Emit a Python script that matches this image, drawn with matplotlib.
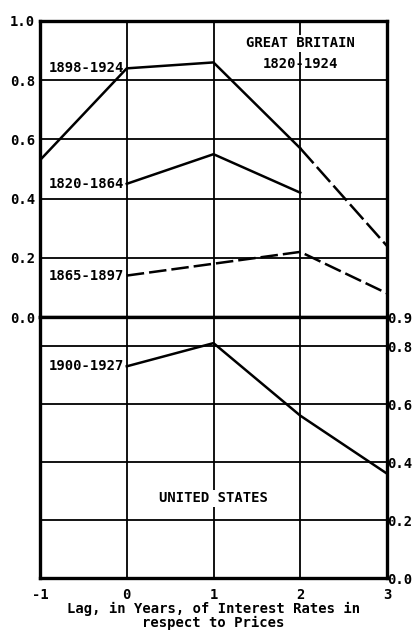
import matplotlib
matplotlib.use("Agg")

import matplotlib.pyplot as plt

# lag in years
lags = [-1, 0, 1, 2, 3]

# Great Britain correlations
gb_1898_1924 = [0.53, 0.84, 0.86, 0.57, 0.24]
gb_1820_1864 = [0.45, 0.55, 0.42]        # lags 0..2
gb_1865_1897 = [0.14, 0.22, 0.08]        # lags 0, 2, 3
gb_1865_lags = [0, 2, 3]

# United States correlations
us_1900_1927 = [0.73, 0.81, 0.56, 0.36]  # lags 0..3

left_ticks = [0.0, 0.2, 0.4, 0.6, 0.8, 1.0]
right_ticks = [0.0, 0.2, 0.4, 0.6, 0.8, 0.9]
x_ticklabels = ["-1", "0", "1", "2", "3"]

font = dict(family="DejaVu Sans Mono", weight="bold", size=10)

fig = plt.figure(figsize=(4.17, 6.32), dpi=100)
ax_gb = fig.add_axes([0.096, 0.4984, 0.832, 0.4684])
ax_us = fig.add_axes([0.096, 0.0854, 0.832, 0.4130])

for ax in (ax_gb, ax_us):
    ax.set_xlim(-1, 3)
    ax.set_xticks(lags)
    ax.tick_params(length=0)
    for side in ax.spines.values():
        side.set_linewidth(2.4)
    for x in lags[1:-1]:
        ax.axvline(x, color="black", lw=1.3, zorder=1)

# top panel
ax_gb.set_ylim(0, 1.0)
ax_gb.set_yticks(left_ticks)
ax_gb.set_yticklabels([f"{v:.1f}" for v in left_ticks], fontdict=font)
ax_gb.set_xticklabels([])
for y in left_ticks[1:-1]:
    ax_gb.axhline(y, color="black", lw=1.3, zorder=1)

ax_gb.plot(lags[:4], gb_1898_1924[:4], color="black", lw=1.8, zorder=3)
ax_gb.plot(lags[3:], gb_1898_1924[3:], color="black", lw=1.8,
           dashes=(8, 2), zorder=3)
ax_gb.plot(lags[1:4], gb_1820_1864, color="black", lw=1.8, zorder=3)
ax_gb.plot(gb_1865_lags, gb_1865_1897, color="black", lw=1.8,
           dashes=(7, 2), zorder=3)

ax_gb.text(-0.03, gb_1898_1924[1], "1898-1924", ha="right", va="center", **font)
ax_gb.text(-0.03, gb_1820_1864[0], "1820-1864", ha="right", va="center", **font)
ax_gb.text(-0.03, gb_1865_1897[0], "1865-1897", ha="right", va="center", **font)
ax_gb.text(2.0, 0.925, "GREAT BRITAIN", ha="center", va="center", zorder=4,
           bbox=dict(facecolor="white", edgecolor="none", pad=1), **font)
ax_gb.text(2.0, 0.853, "1820-1924", ha="center", va="center", zorder=4, **font)

# bottom panel
ax_us.set_ylim(0, 0.9)
ax_us.yaxis.tick_right()
ax_us.set_yticks(right_ticks)
ax_us.set_yticklabels([f"{v:.1f}" for v in right_ticks], fontdict=font)
ax_us.tick_params(axis="y", pad=0)
ax_us.set_xticklabels(x_ticklabels, fontdict=font)
ax_us.tick_params(axis="x", pad=7)
for y in right_ticks[1:-1]:
    ax_us.axhline(y, color="black", lw=1.3, zorder=1)

ax_us.plot(lags[1:], us_1900_1927, color="black", lw=1.8, zorder=3)
ax_us.text(-0.03, us_1900_1927[0], "1900-1927", ha="right", va="center", **font)
ax_us.text(1.0, 0.275, "UNITED STATES", ha="center", va="center", zorder=4,
           bbox=dict(facecolor="white", edgecolor="none", pad=1), **font)

ax_us.set_xlabel("Lag, in Years, of Interest Rates in\nrespect to Prices",
                 fontdict=font, labelpad=0, linespacing=0.95)

fig.savefig("out.png", dpi=100)
